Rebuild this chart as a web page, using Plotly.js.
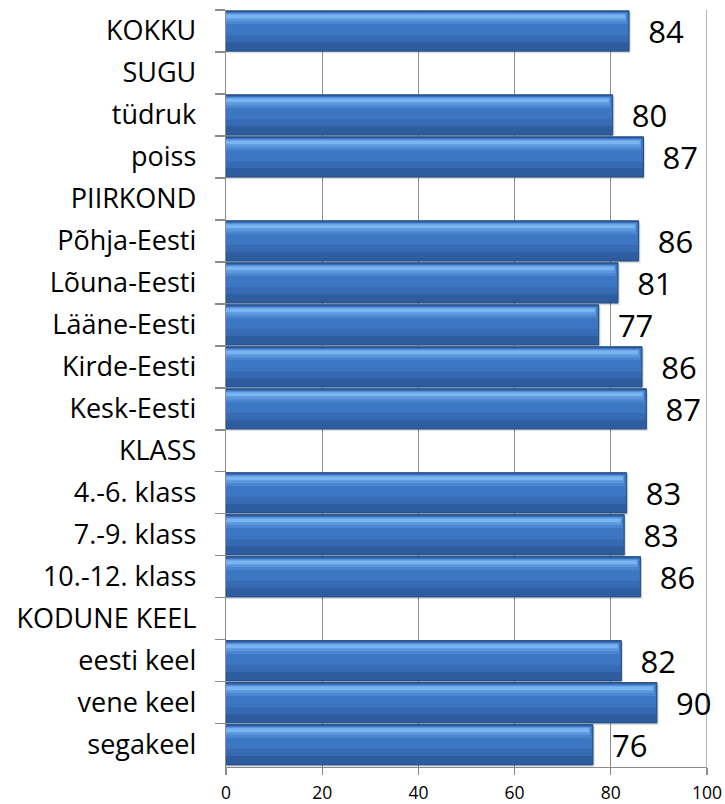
<!DOCTYPE html>
<html>
<head>
<meta charset="utf-8">
<script src="https://cdn.plot.ly/plotly-3.0.1.min.js"></script>
<style>html,body{margin:0;padding:0;background:#fff;}#chart{width:725px;height:804px;}</style>
</head>
<body>
<div id="chart"></div>
<script>
var categories = ['KOKKU','SUGU','tüdruk','poiss','PIIRKOND','Põhja-Eesti','Lõuna-Eesti','Lääne-Eesti','Kirde-Eesti','Kesk-Eesti','KLASS','4.-6. klass','7.-9. klass','10.-12. klass','KODUNE KEEL','eesti keel','vene keel','segakeel'];
var values = [83.8, null, 80.4, 86.8, null, 85.8, 81.5, 77.5, 86.5, 87.4, null, 83.3, 82.8, 86.2, null, 82.2, 89.6, 76.3];
var valueLabels = ['84','','80','87','','86','81','77','86','87','','83','83','86','','82','90','76'];
var xTicks = [0, 20, 40, 60, 80, 100];

var labelText = valueLabels.map(function(s){ return s ? '\u00A0\u00A0' + s : ''; });

function layer(color, offset, width, shrink, opts) {
  var t = {
    type: 'bar', orientation: 'h',
    y: categories,
    x: values.map(function(v){ return v === null ? null : v - shrink; }),
    offset: offset, width: width,
    marker: {color: color, line: {width: 0}},
    hoverinfo: 'skip', showlegend: false, cliponaxis: false
  };
  for (var k in opts) t[k] = opts[k];
  return t;
}

var traces = [
  // soft shadow
  layer('rgba(0,0,0,0.13)', -0.44, 0.97, -0.35, {}),
  // base (dark) bar with outline and value labels
  layer('#2D5D9E', -0.48, 0.96, 0, {
    marker: {color: '#2D5D9E', line: {color: '#244C82', width: 1}},
    text: labelText, textposition: 'outside', constraintext: 'none',
    textfont: {family: 'Open Sans, sans-serif', size: 31, color: '#000'}
  }),
  layer('#366BB4', -0.45, 0.72, 0.15, {}),
  layer('#3D77C3', -0.44, 0.54, 0.2, {}),
  layer('#5C97DE', -0.42, 0.20, 0.5, {}),
  layer('#7AB5F1', -0.39, 0.09, 0.8, {}),
  layer('#4A85CF', -0.22, 0.06, 0.3, {})
];

var layout = {
  width: 725, height: 804,
  margin: {l: 225.5, r: 17.5, t: 10, b: 37},
  paper_bgcolor: '#fff', plot_bgcolor: '#fff',
  barmode: 'overlay',
  showlegend: false,
  xaxis: {
    range: [0, 100], tickvals: xTicks, ticktext: xTicks.map(String),
    showgrid: true, gridcolor: '#8C8C8C', gridwidth: 1.3,
    zeroline: false, showline: true, linecolor: '#8C8C8C', linewidth: 1.3,
    ticks: 'outside', ticklen: 7, tickcolor: '#8C8C8C', tickwidth: 1.3,
    ticklabelstandoff: 3,
    tickfont: {family: 'Open Sans, sans-serif', size: 17.5, color: '#000'},
    fixedrange: true
  },
  yaxis: {
    type: 'category', categoryorder: 'array', categoryarray: categories,
    autorange: 'reversed',
    showgrid: false, zeroline: false,
    showline: true, linecolor: '#8C8C8C', linewidth: 1.3,
    ticks: 'outside', ticklen: 10, tickcolor: '#8C8C8C', tickwidth: 1.3,
    tickson: 'boundaries',
    ticklabelstandoff: 23,
    tickfont: {family: 'Open Sans, sans-serif', size: 27, color: '#000'},
    fixedrange: true
  },
  shapes: [{type: 'line', xref: 'x', yref: 'paper', x0: 100, x1: 100, y0: 0, y1: 1, line: {color: '#8C8C8C', width: 1.3}, layer: 'below'}]
};

Plotly.newPlot('chart', traces, layout, {displayModeBar: false, staticPlot: true});
</script>
</body>
</html>
